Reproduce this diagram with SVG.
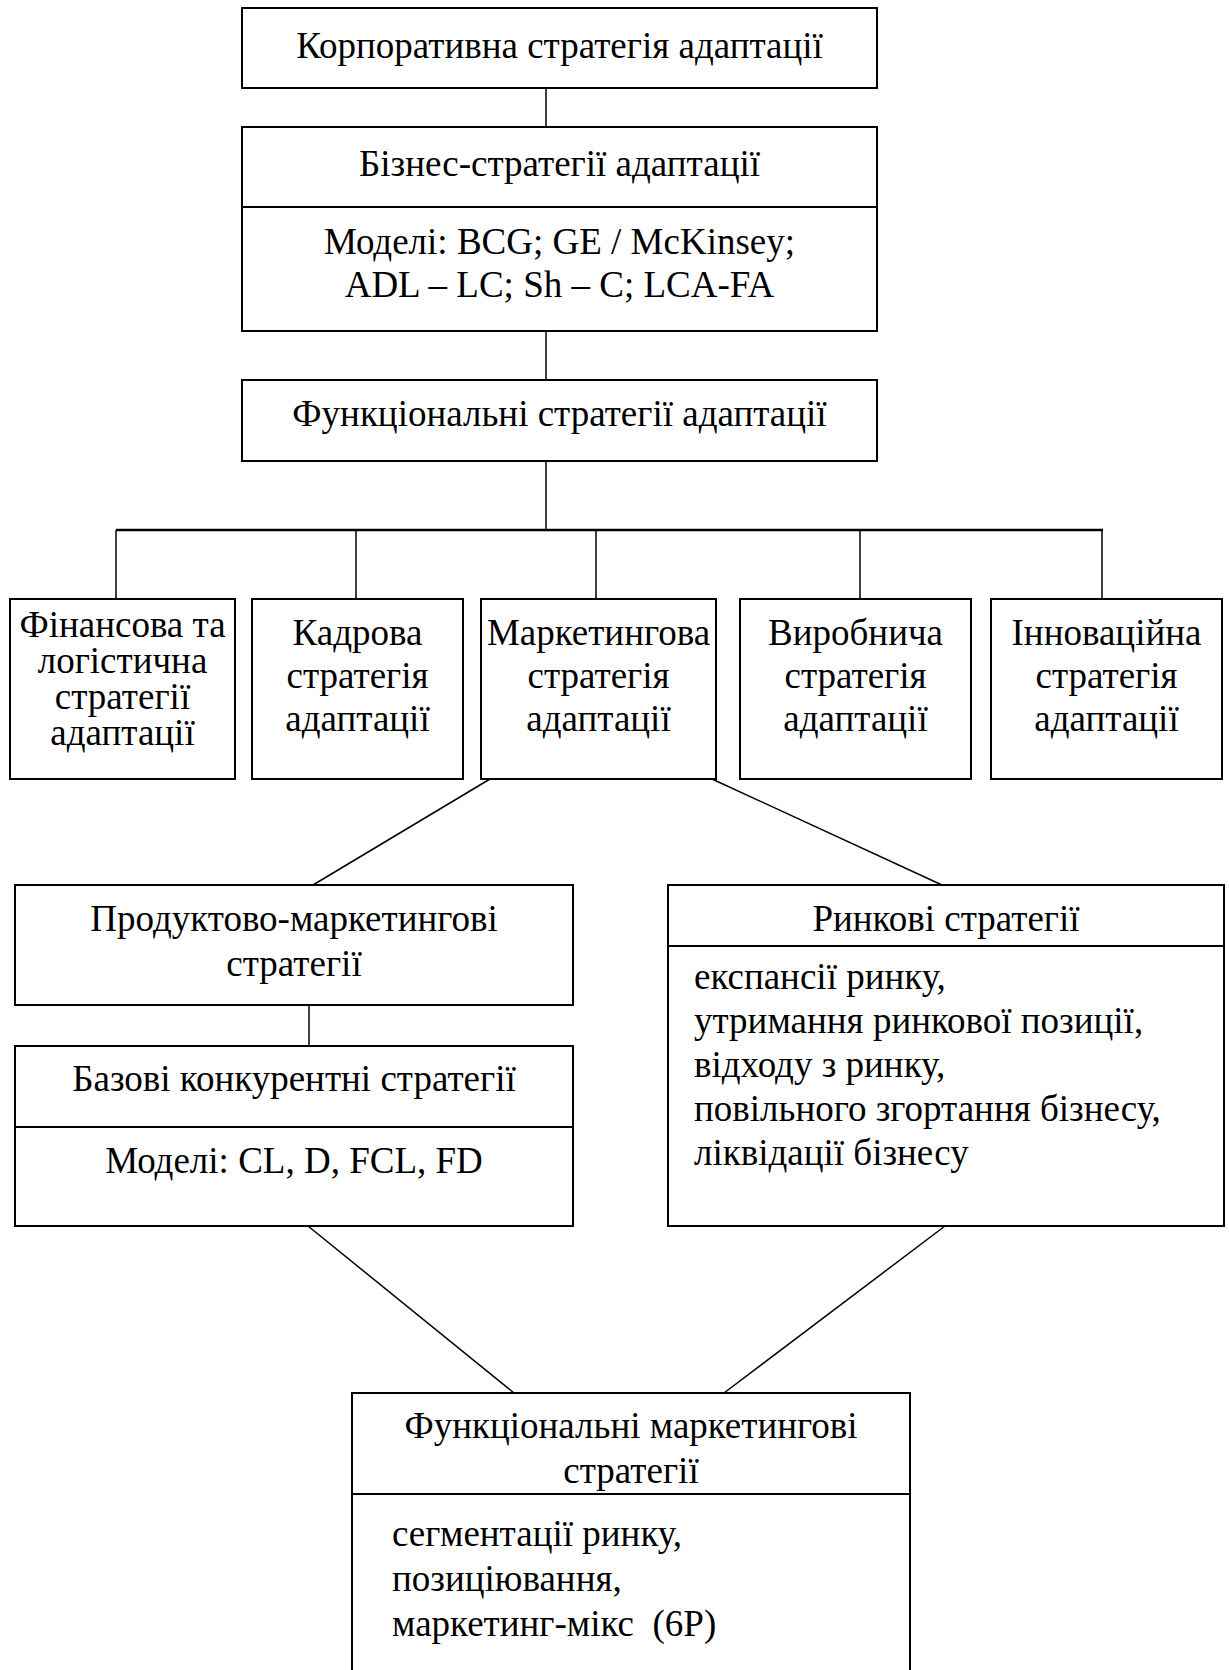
<svg xmlns="http://www.w3.org/2000/svg" width="1229" height="1670" viewBox="0 0 1229 1670">
  <style>
    .box { fill: #ffffff; stroke: #000000; stroke-width: 2; }
    .div { stroke: #000000; stroke-width: 2; fill: none; }
    .con { stroke: #000000; stroke-width: 1.5; fill: none; }
    .bar { stroke: #000000; stroke-width: 2.5; fill: none; }
    text { font-family: "Liberation Serif", "Times New Roman", serif; font-size: 37px; fill: #000000; }
    .c { text-anchor: middle; }
    .l { text-anchor: start; }
    .pre { white-space: pre; }
  </style>
  <rect width="1229" height="1670" fill="#ffffff"/>

  <!-- connectors -->
  <g id="connectors">
    <line class="con" x1="546" y1="88" x2="546" y2="127"/>
    <line class="con" x1="546" y1="331" x2="546" y2="380"/>
    <line class="con" x1="546" y1="461" x2="546" y2="530"/>
    <line class="bar" x1="116" y1="530" x2="1103" y2="530"/>
    <line class="con" x1="116" y1="530" x2="116" y2="599"/>
    <line class="con" x1="356" y1="530" x2="356" y2="599"/>
    <line class="con" x1="596" y1="530" x2="596" y2="599"/>
    <line class="con" x1="860" y1="530" x2="860" y2="599"/>
    <line class="con" x1="1102" y1="530" x2="1102" y2="599"/>
    <line class="con" x1="490" y1="779" x2="313" y2="885"/>
    <line class="con" x1="712" y1="779" x2="942" y2="885"/>
    <line class="con" x1="309" y1="1005" x2="309" y2="1046"/>
    <line class="con" x1="308" y1="1226" x2="514" y2="1393"/>
    <line class="con" x1="945" y1="1226" x2="724" y2="1393"/>
  </g>

  <!-- corporate level -->
  <g id="corporate">
    <rect class="box" x="242" y="8" width="635" height="80"/>
    <text class="c" x="559.5" y="58">Корпоративна стратегія адаптації</text>
  </g>

  <!-- business level -->
  <g id="business">
    <rect class="box" x="242" y="127" width="635" height="204"/>
    <line class="div" x1="242" y1="207" x2="877" y2="207"/>
    <text class="c" x="559.5" y="176">Бізнес-стратегії адаптації</text>
    <text class="c" x="559.5" y="254">Моделі: BCG; GE / McKinsey;</text>
    <text class="c" x="559.5" y="297">ADL – LC; Sh – C; LCA-FA</text>
  </g>

  <!-- functional level -->
  <g id="functional">
    <rect class="box" x="242" y="380" width="635" height="81"/>
    <text class="c" x="559.5" y="426">Функціональні стратегії адаптації</text>
  </g>

  <g id="finance">
    <rect class="box" x="10" y="599" width="225" height="180"/>
    <text class="c" x="122.5" y="637">Фінансова та</text>
    <text class="c" x="122.5" y="673">логістична</text>
    <text class="c" x="122.5" y="709">стратегії</text>
    <text class="c" x="122.5" y="745">адаптації</text>
  </g>

  <g id="personnel">
    <rect class="box" x="252" y="599" width="211" height="180"/>
    <text class="c" x="357.5" y="645">Кадрова</text>
    <text class="c" x="357.5" y="688">стратегія</text>
    <text class="c" x="357.5" y="731">адаптації</text>
  </g>

  <g id="marketing">
    <rect class="box" x="481" y="599" width="235" height="180"/>
    <text class="c" x="598.5" y="645">Маркетингова</text>
    <text class="c" x="598.5" y="688">стратегія</text>
    <text class="c" x="598.5" y="731">адаптації</text>
  </g>

  <g id="production">
    <rect class="box" x="740" y="599" width="231" height="180"/>
    <text class="c" x="855.5" y="645">Виробнича</text>
    <text class="c" x="855.5" y="688">стратегія</text>
    <text class="c" x="855.5" y="731">адаптації</text>
  </g>

  <g id="innovation">
    <rect class="box" x="991" y="599" width="231" height="180"/>
    <text class="c" x="1106.5" y="645">Інноваційна</text>
    <text class="c" x="1106.5" y="688">стратегія</text>
    <text class="c" x="1106.5" y="731">адаптації</text>
  </g>

  <!-- marketing sub-levels -->
  <g id="product-marketing">
    <rect class="box" x="15" y="885" width="558" height="120"/>
    <text class="c" x="294" y="931">Продуктово-маркетингові</text>
    <text class="c" x="294" y="976">стратегії</text>
  </g>

  <g id="competitive">
    <rect class="box" x="15" y="1046" width="558" height="180"/>
    <line class="div" x1="15" y1="1127" x2="573" y2="1127"/>
    <text class="c" x="294" y="1091">Базові конкурентні стратегії</text>
    <text class="c" x="294" y="1173">Моделі: CL, D, FCL, FD</text>
  </g>

  <g id="market">
    <rect class="box" x="668" y="885" width="556" height="341"/>
    <line class="div" x1="668" y1="946" x2="1224" y2="946"/>
    <text class="c" x="946" y="931">Ринкові стратегії</text>
    <text class="l" x="694" y="989">експансії ринку,</text>
    <text class="l" x="694" y="1033">утримання ринкової позиції,</text>
    <text class="l" x="694" y="1077">відходу з ринку,</text>
    <text class="l" x="694" y="1121">повільного згортання бізнесу,</text>
    <text class="l" x="694" y="1165">ліквідації бізнесу</text>
  </g>

  <g id="functional-marketing">
    <rect class="box" x="352" y="1393" width="558" height="290"/>
    <line class="div" x1="352" y1="1494" x2="910" y2="1494"/>
    <text class="c" x="631" y="1438">Функціональні маркетингові</text>
    <text class="c" x="631" y="1483">стратегії</text>
    <text class="l" x="392" y="1546">сегментації ринку,</text>
    <text class="l" x="392" y="1591">позиціювання,</text>
    <text class="l pre" x="392" y="1636">маркетинг-мікс  (6Р)</text>
  </g>
</svg>
